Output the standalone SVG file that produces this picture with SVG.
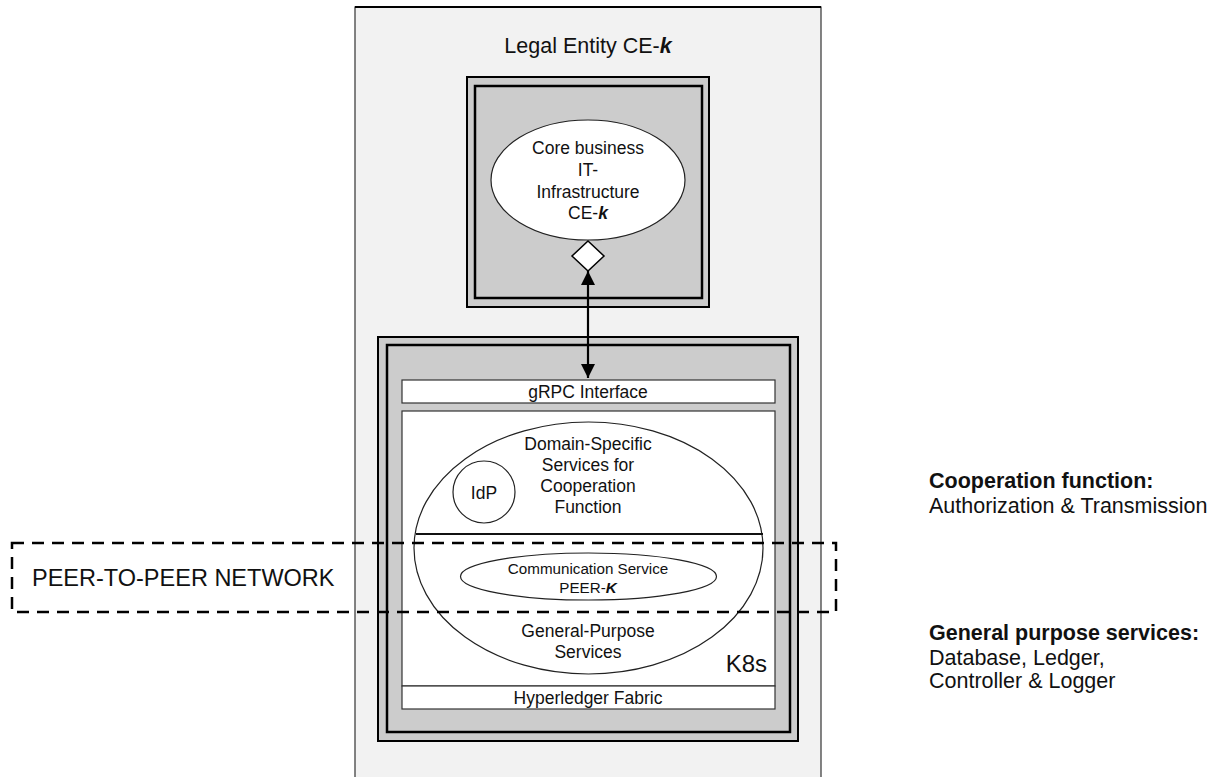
<svg xmlns="http://www.w3.org/2000/svg" width="1220" height="777" viewBox="0 0 1220 777">
<defs>
<marker id="ah" viewBox="0 0 10 10" refX="10" refY="5" markerWidth="15" markerHeight="14" markerUnits="userSpaceOnUse" orient="auto-start-reverse">
<path d="M0,0 L10,5 L0,10 z" fill="#000"/>
</marker>
<style>
text{font-family:"Liberation Sans",Arial,Helvetica,sans-serif;fill:#111;}
.t{font-size:17.5px;text-anchor:middle;}
.s{font-size:15.2px;text-anchor:middle;}
.r{font-size:21.5px;}
.b{font-weight:bold;}
.bi{font-weight:bold;font-style:italic;}
.box{fill:#cccccc;stroke:#000;}
.w{fill:#fff;stroke:#333;stroke-width:1.2;}
.el{fill:#fff;stroke:#222;stroke-width:1.2;}
.dash{fill:none;stroke:#000;stroke-width:2.5;stroke-dasharray:12 8;}
</style>
</defs>
<rect width="1220" height="777" fill="#fff"/>

<g id="legal-entity">
<rect x="355" y="7" width="466" height="790" fill="#f2f2f2" stroke="#333" stroke-width="1.2"/>
<line x1="355" y1="7" x2="821" y2="7" stroke="#000" stroke-width="2"/>
<text x="588" y="52.7" style="font-size:21.5px;text-anchor:middle">Legal Entity CE-<tspan class="bi">k</tspan></text>
</g>

<g id="core-box">
<rect x="467" y="77" width="242" height="230" class="box" stroke-width="2"/>
<rect x="475" y="86" width="227" height="212" class="box" stroke-width="2.5"/>
</g>

<g id="core-infra">
<ellipse cx="588" cy="180" rx="97" ry="60" class="el"/>
<text class="t" x="588" y="154">Core business</text>
<text class="t" x="588" y="176">IT-</text>
<text class="t" x="588" y="197.5">Infrastructure</text>
<text class="t" x="588" y="219">CE-<tspan class="bi">k</tspan></text>
<polygon points="588,241 604,256 588,271 572,256" fill="#fff" stroke="#000" stroke-width="1.5"/>
</g>

<g id="k8s-box">
<rect x="378" y="337" width="420" height="404" class="box" stroke-width="2"/>
<rect x="387" y="345" width="403" height="387" class="box" stroke-width="2.5"/>
</g>

<g id="grpc">
<rect x="402" y="380" width="373" height="23" class="w"/>
<text class="t" x="588" y="397.5">gRPC Interface</text>
</g>

<g id="k8s">
<rect x="402" y="411" width="373" height="275" class="w"/>
<text x="767" y="672" style="font-size:24px;text-anchor:end">K8s</text>
</g>

<g id="hyperledger">
<rect x="402" y="686" width="373" height="23" class="w"/>
<text class="t" x="588" y="704">Hyperledger Fabric</text>
</g>

<g id="services">
<ellipse cx="588.5" cy="548" rx="174.5" ry="126" class="el"/>
<line x1="416" y1="534" x2="763" y2="534" stroke="#111" stroke-width="1.8"/>
<text class="t" x="588" y="450">Domain-Specific</text>
<text class="t" x="588" y="471">Services for</text>
<text class="t" x="588" y="492">Cooperation</text>
<text class="t" x="588" y="513">Function</text>
<text class="t" x="588" y="637">General-Purpose</text>
<text class="t" x="588" y="658">Services</text>
</g>

<g id="idp">
<circle cx="484" cy="492" r="31" class="el"/>
<text class="t" x="484" y="498.5">IdP</text>
</g>

<g id="comm-service">
<ellipse cx="588.5" cy="576.5" rx="128" ry="23.5" class="el"/>
<text class="s" x="588" y="573.5">Communication Service</text>
<text class="s" x="588" y="592.5">PEER-<tspan class="bi">K</tspan></text>
</g>

<g id="p2p-network">
<rect x="12" y="543" width="824" height="69" class="dash"/>
<text x="32" y="585.5" style="font-size:23.5px">PEER-TO-PEER NETWORK</text>
</g>

<g id="legend">
<text class="r b" x="929" y="487.7">Cooperation function:</text>
<text class="r" x="929" y="512.7">Authorization &amp; Transmission</text>
<text class="r b" x="929" y="639.7">General purpose services:</text>
<text class="r" x="929" y="664.7">Database, Ledger,</text>
<text class="r" x="929" y="687.7">Controller &amp; Logger</text>
</g>

<g id="connectors">
<line x1="588" y1="271" x2="588" y2="378" stroke="#000" stroke-width="2.2" marker-start="url(#ah)" marker-end="url(#ah)"/>
</g>
</svg>
